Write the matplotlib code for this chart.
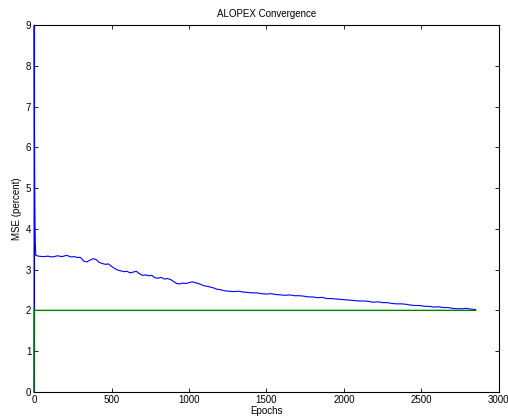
import matplotlib
matplotlib.use("Agg")
import matplotlib.pyplot as plt
import numpy as np

plt.rcParams['font.family'] = ['Liberation Sans', 'DejaVu Sans']

# MSE (percent) of ALOPEX run
epochs = [0, 1, 2, 3, 4, 6, 8, 11,
          30, 60, 90, 120, 150, 180, 210, 240, 260, 280, 300, 320, 340, 360, 380,
          400, 420, 440, 460, 480, 500, 520, 540, 560, 580, 600, 620, 640, 660, 680,
          700, 720, 740, 760, 780, 800, 820, 840, 860, 880, 900, 920, 940, 960, 980,
          1000, 1020, 1040, 1060, 1080, 1100, 1120, 1140, 1160, 1180, 1200, 1230, 1260,
          1290, 1320, 1350, 1380, 1410, 1440, 1470, 1500, 1530, 1560, 1590, 1620, 1650,
          1680, 1710, 1740, 1770, 1800, 1830, 1860, 1890, 1920, 1950, 1980, 2010, 2040,
          2070, 2100, 2130, 2160, 2190, 2220, 2250, 2280, 2310, 2340, 2370, 2400, 2430,
          2460, 2490, 2520, 2550, 2580, 2610, 2640, 2670, 2700, 2730, 2760, 2790, 2820,
          2850]
mse = [0.0, 9.0, 7.5, 6.0, 5.0, 4.2, 3.7, 3.35,
       3.33, 3.32, 3.33, 3.31, 3.34, 3.32, 3.35, 3.31, 3.32, 3.30, 3.30, 3.21,
       3.19, 3.23, 3.27, 3.25, 3.18, 3.15, 3.13, 3.14, 3.08, 3.03, 2.99, 2.97,
       2.95, 2.96, 2.92, 2.94, 2.96, 2.90, 2.86, 2.87, 2.85, 2.86, 2.80, 2.79,
       2.81, 2.77, 2.78, 2.76, 2.71, 2.66, 2.65, 2.67, 2.66, 2.68, 2.70, 2.68,
       2.66, 2.63, 2.60, 2.59, 2.57, 2.55, 2.52, 2.51, 2.48, 2.47, 2.46, 2.47,
       2.45, 2.44, 2.43, 2.43, 2.41, 2.40, 2.41, 2.39, 2.38, 2.37, 2.38, 2.36,
       2.36, 2.35, 2.33, 2.33, 2.31, 2.32, 2.29, 2.29, 2.28, 2.27, 2.26, 2.25,
       2.24, 2.23, 2.23, 2.22, 2.20, 2.21, 2.19, 2.19, 2.17, 2.16, 2.16, 2.15,
       2.13, 2.12, 2.12, 2.10, 2.10, 2.08, 2.09, 2.07, 2.07, 2.05, 2.04, 2.04,
       2.05, 2.03, 2.02]

goal_epochs = [0, 1, 2850]
goal = [0.0, 2.0, 2.0]

fig = plt.figure(figsize=(5.08, 4.2), dpi=100)
ax = fig.add_axes([0.067, 0.067, 0.915, 0.873])
ax.plot(epochs, mse, color=(0, 0, 1), lw=0.8, zorder=3, clip_on=False)
ax.plot(goal_epochs, goal, color=(0, 0.5, 0), lw=1.0, zorder=3.1, clip_on=False)

ax.set_xlim(0, 3000)
ax.set_ylim(0, 9)
ax.set_xticks(np.arange(0, 3001, 500))
ax.set_yticks(np.arange(0, 10, 1))
ax.tick_params(direction='in', top=True, right=True, labelsize=7, length=3, width=0.6, pad=2)
for s in ax.spines.values():
    s.set_linewidth(0.8)
ax.set_title('ALOPEX Convergence', fontsize=7, pad=6)
ax.set_xlabel('Epochs', fontsize=7, labelpad=1)
ax.set_ylabel('MSE (percent)', fontsize=7, labelpad=3)

fig.savefig('out.png', dpi=100)
